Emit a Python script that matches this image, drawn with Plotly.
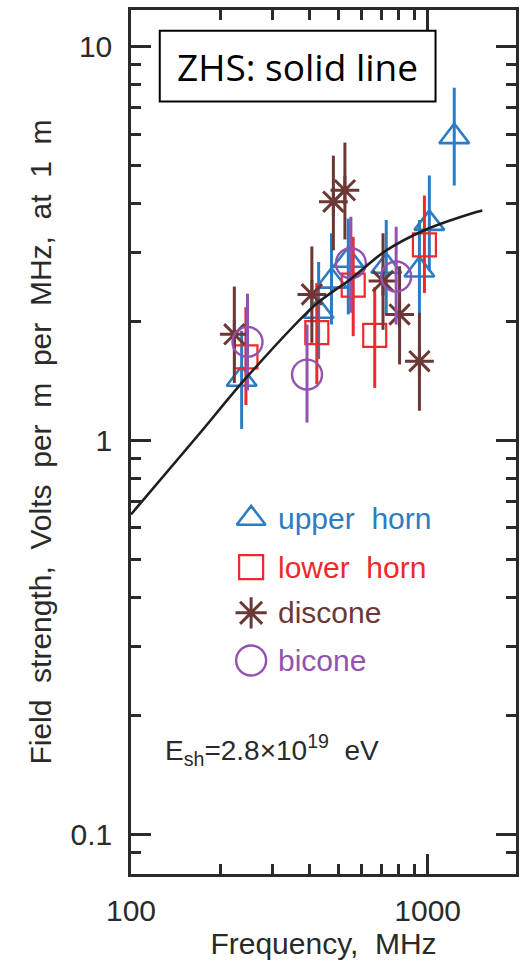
import plotly.graph_objects as go

# ---------------- data ----------------
uh_freq = [236, 429, 474, 540, 725, 938, 1013, 1229]
uh_val  = [1.43, 2.13, 2.54, 2.87, 2.77, 2.71, 3.56, 5.91]
uh_hi   = [1.90, 2.84, 3.36, 3.66, 3.63, 3.63, 4.71, 7.87]
uh_lo   = [1.07, 1.61, 1.97, 2.09, 2.09, 2.07, 2.69, 4.44]

lh_freq = [244, 423, 561, 663, 975]
lh_val  = [1.63, 1.88, 2.48, 1.85, 3.14]
lh_hi   = [2.18, 2.51, 3.29, 2.45, 4.19]
lh_lo   = [1.23, 1.39, 1.84, 1.36, 2.37]

dc_freq = [223, 407, 481, 526, 707, 804, 938]
dc_val  = [1.86, 2.35, 4.04, 4.32, 2.54, 2.09, 1.59]
dc_hi   = [2.46, 3.11, 5.29, 5.71, 3.36, 2.77, 2.11]
dc_lo   = [1.40, 1.77, 3.04, 3.24, 1.91, 1.56, 1.19]

bc_freq = [247, 392, 551, 783]
bc_val  = [1.78, 1.47, 2.82, 2.61]
bc_hi   = [2.36, 1.97, 3.70, 3.49]
bc_lo   = [1.34, 1.11, 2.11, 1.97]

zhs_freq = [100, 170, 246, 418, 554, 716, 975, 1469, 1528]
zhs_val  = [0.649, 1.04, 1.45, 2.21, 2.58, 3.02, 3.42, 3.81, 3.84]

x_major = [100, 1000]
x_major_text = ["100", "1000"]
x_minor = [200, 300, 400, 500, 600, 700, 800, 900]
y_major = [0.1, 1, 10]
y_major_text = ["0.1", "1", "10"]
y_minor = [0.09, 0.2, 0.3, 0.4, 0.5, 0.6, 0.7, 0.8, 0.9,
           2, 3, 4, 5, 6, 7, 8, 9]

legend_names = ["upper\u00a0 horn", "lower\u00a0 horn", "discone", "bicone"]

# ---------------- styles ----------------
BLUE = "#2c7cc4"
RED = "#f0282c"
BROWN = "#6c3835"
PURPLE = "#9452b0"
AX = "#2a2a2a"
FONT = "Liberation Sans, Arial, sans-serif"

series = [
    (uh_freq, uh_val, uh_hi, uh_lo, BLUE, "triangle-up-open", 26, 2.6),
    (lh_freq, lh_val, lh_hi, lh_lo, RED, "square-open", 23, 2.2),
    (dc_freq, dc_val, dc_hi, dc_lo, BROWN, "asterisk-open", 24, 3.0),
    (bc_freq, bc_val, bc_hi, bc_lo, PURPLE, "circle-open", 30, 2.4),
]

fig = go.Figure()

for fr, v, hi, lo, col, sym, sz, lw in series:
    plus = [h - a for h, a in zip(hi, v)]
    minus = [a - l for a, l in zip(v, lo)]
    fig.add_trace(go.Scatter(
        x=fr, y=v, mode="markers", showlegend=False,
        marker=dict(symbol=sym, size=sz, color=col, line=dict(color=col, width=lw)),
        error_y=dict(type="data", array=plus, arrayminus=minus, symmetric=False,
                     color=col, thickness=3, width=0),
    ))

fig.add_trace(go.Scatter(
    x=zhs_freq, y=zhs_val, mode="lines", showlegend=False,
    line=dict(color="#1e1e1e", width=2.6, shape="spline", smoothing=0.8),
))

# ---------------- manual legend (overlay axis in paper-like units) ----------------
leg_y = [0.4115, 0.3552, 0.3023, 0.2471]
leg_sym = [("triangle-up-open", 25, 2.6), ("square-open", 24, 2.2),
           ("asterisk-open", 26, 3.0), ("circle-open", 30, 2.4)]
leg_cols = [BLUE, RED, BROWN, PURPLE]
for (sym, sz, lw), col, yy, name in zip(leg_sym, leg_cols, leg_y, legend_names):
    fig.add_trace(go.Scatter(
        x=[0.312], y=[yy], xaxis="x2", yaxis="y2", mode="markers", showlegend=False,
        marker=dict(symbol=sym, size=sz, color=col, line=dict(color=col, width=lw)),
        hoverinfo="skip",
    ))
    fig.add_annotation(
        x=0.376, y=yy, xref="paper", yref="paper", xanchor="left", yanchor="middle",
        text=name, showarrow=False,
        font=dict(family=FONT, size=30, color=col),
    )

# ---------------- annotations ----------------
fig.add_shape(type="rect", xref="paper", yref="paper",
              x0=0.0747, x1=0.791, y0=0.894, y1=0.976,
              line=dict(color="black", width=2), fillcolor="white", layer="above")
fig.add_annotation(x=0.433, y=0.935, xref="paper", yref="paper",
                   xanchor="center", yanchor="middle",
                   text="ZHS: solid line", showarrow=False,
                   font=dict(family="Open Sans, sans-serif", size=37, color="black"))
fig.add_annotation(x=0.082, y=0.143, xref="paper", yref="paper", xanchor="left",
                   yanchor="middle",
                   text="E<sub>sh</sub>=2.8×10<sup>19</sup>\u00a0 eV", showarrow=False,
                   font=dict(family=FONT, size=28, color=AX))

axis_common = dict(
    type="log", showline=True, linecolor=AX, linewidth=2.5, mirror="ticks",
    ticks="inside", ticklen=20, tickwidth=2.5, tickcolor=AX,
    showgrid=False, zeroline=False,
    tickfont=dict(family=FONT, size=30, color=AX),
)

fig.update_layout(
    width=526, height=963,
    margin=dict(l=131, r=7, t=10, b=83),
    paper_bgcolor="white", plot_bgcolor="white",
    xaxis=dict(
        **axis_common,
        range=[2, 3.2977],
        tickvals=x_major, ticktext=x_major_text,
        minor=dict(tickvals=x_minor, ticks="inside", ticklen=10, tickwidth=2.5,
                   tickcolor=AX, showgrid=False),
        ticklabelstandoff=8,
        title=dict(text="Frequency,\u00a0 MHz", standoff=8,
                   font=dict(family=FONT, size=30, color=AX)),
    ),
    yaxis=dict(
        **axis_common,
        range=[-1.101, 1.0933],
        tickvals=y_major, ticktext=y_major_text,
        minor=dict(tickvals=y_minor, ticks="inside", ticklen=10, tickwidth=2.5,
                   tickcolor=AX, showgrid=False),
        ticklabelstandoff=10,
        title=dict(text="Field\u00a0 strength,\u00a0 Volts\u00a0 per\u00a0 m\u00a0 per\u00a0 MHz,\u00a0 at\u00a0 1\u00a0 m",
                   standoff=11, font=dict(family=FONT, size=30, color=AX)),
    ),
    xaxis2=dict(overlaying="x", range=[0, 1], visible=False, anchor="y2"),
    yaxis2=dict(overlaying="y", range=[0, 1], visible=False, anchor="x2"),
    showlegend=False,
)

fig.write_html("out.html")
